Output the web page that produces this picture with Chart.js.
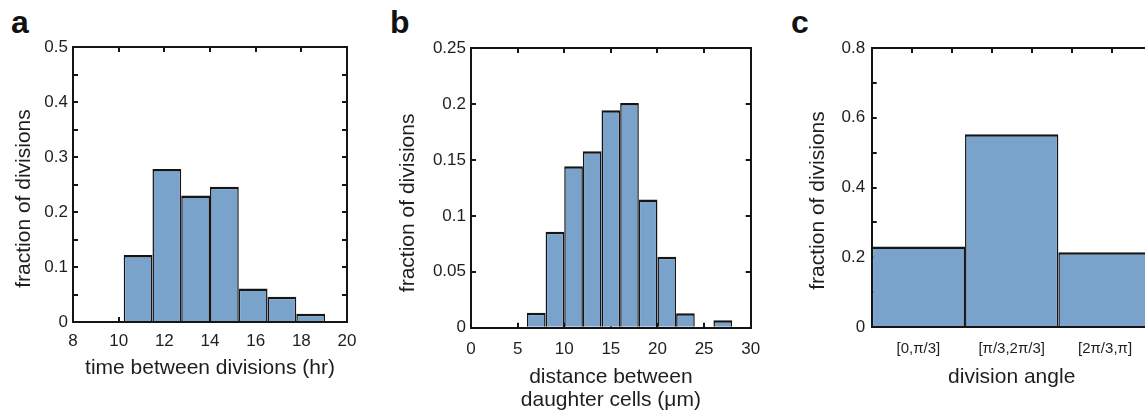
<!DOCTYPE html>
<html>
<head>
<meta charset="utf-8">
<script src="https://cdn.jsdelivr.net/npm/chart.js@4/dist/chart.umd.min.js"></script>
<style>
html,body{margin:0;padding:0;background:#fff;overflow:hidden;width:1145px;height:419px;position:relative;}
canvas{position:absolute;top:0;}
.lbl{position:absolute;font:bold 32px "Liberation Sans",Arial,sans-serif;color:#111;line-height:1;}
</style>
</head>
<body>
<div class="lbl" style="left:11px;top:6px">a</div>
<div class="lbl" style="left:390px;top:6px">b</div>
<div class="lbl" style="left:791px;top:6px">c</div>
<canvas id="ca" width="390" height="419" style="left:0px"></canvas>
<canvas id="cb" width="395" height="419" style="left:385px"></canvas>
<canvas id="cc" width="375" height="419" style="left:790px"></canvas>
<script>
// ---------- data ----------
// Panel a: time between divisions (hr)
const aBinCenters = [10.85, 12.11, 13.37, 14.63, 15.89, 17.15, 18.41];
const aFractions  = [0.122, 0.278, 0.230, 0.246, 0.061, 0.046, 0.015];
const aXTicks     = [8, 10, 12, 14, 16, 18, 20];
const aYTicks     = [0, 0.05, 0.1, 0.15, 0.2, 0.25, 0.3, 0.35, 0.4, 0.45, 0.5];
const aYLabels    = [0, 0.1, 0.2, 0.3, 0.4, 0.5];

// Panel b: distance between daughter cells (um)
const bBinCenters = [7, 9, 11, 13, 15, 17, 19, 21, 23, 25, 27];
const bFractions  = [0.0134, 0.0857, 0.1444, 0.1578, 0.1944, 0.2009, 0.1146, 0.0634, 0.0129, 0, 0.0066];
const bXTicks     = [0, 5, 10, 15, 20, 25, 30];
const bYTicks     = [0, 0.05, 0.1, 0.15, 0.2, 0.25];
const bYLabels    = [0, 0.05, 0.1, 0.15, 0.2, 0.25];

// Panel c: division angle
const cCategories = ['[0,\u03c0/3]', '[\u03c0/3,2\u03c0/3]', '[2\u03c0/3,\u03c0]'];
const cFractions  = [0.231, 0.553, 0.214];
const cTopTicks   = [0, 0.5, 1, 1.5, 2, 2.5, 3, 3.5];
const cYTicks     = [0, 0.1, 0.2, 0.3, 0.4, 0.5, 0.6, 0.7, 0.8];
const cYLabels    = [0, 0.2, 0.4, 0.6, 0.8];

const Y_TITLE = 'fraction of divisions';

// ---------- style ----------
const FONT = '"Liberation Sans", Arial, Helvetica, sans-serif';
const INK = '#151515';
const TXT = '#1e1e1e';
const BAR = '#7aa3cc';
const TICK_SIZE = 17;
const TITLE_SIZE = 21;

// rotated y-axis title, centred on the plot area with a small downward shift
const yTitlePlugin = {
  id: 'yTitle',
  afterDraw(chart, args, opts) {
    const {ctx, chartArea} = chart;
    ctx.save();
    ctx.translate(opts.x, (chartArea.top + chartArea.bottom) / 2 + opts.dy);
    ctx.rotate(-Math.PI / 2);
    ctx.font = TITLE_SIZE + 'px ' + FONT;
    ctx.fillStyle = TXT;
    ctx.textAlign = 'center';
    ctx.textBaseline = 'middle';
    ctx.fillText(opts.text, 0, 0);
    ctx.restore();
  }
};

function edgeGrid(drawTicks) {
  return {display: true, drawOnChartArea: false, drawTicks: drawTicks !== false, tickLength: -5,
          lineWidth: 2, tickWidth: 2, color: INK, tickColor: INK, offset: false};
}
function frame() { return {display: true, width: 2, color: INK}; }
function fixedTicks(list) { return (scale) => { scale.ticks = list.map(v => ({value: v})); }; }
function fmt(v) { return String(parseFloat(Number(v).toFixed(3))); }
function isIn(list, v) { return list.some(l => Math.abs(l - v) < 1e-9); }

function yScales(p) {
  return {
    y: {type: 'linear', position: 'left', min: p.yTicks[0], max: p.yTicks[p.yTicks.length - 1],
        afterBuildTicks: fixedTicks(p.yTicks),
        ticks: {autoSkip: false, padding: p.yPad, font: {family: FONT, size: TICK_SIZE}, color: TXT,
                callback: v => isIn(p.yLabels, v) ? fmt(v) : ''},
        grid: edgeGrid(), border: frame(),
        afterFit: s => { s.width = p.yW; }},
    yRight: {type: 'linear', position: 'right', min: p.yTicks[0], max: p.yTicks[p.yTicks.length - 1],
        afterBuildTicks: fixedTicks(p.yTicks), ticks: {display: false},
        grid: edgeGrid(), border: frame(), afterFit: s => { s.width = 0; }}
  };
}

function topScale(ticks) {
  return {type: 'linear', position: 'top', offset: false, min: ticks[0], max: ticks[ticks.length - 1],
          afterBuildTicks: fixedTicks(ticks.slice(1, -1)), ticks: {display: false},
          grid: edgeGrid(), border: frame(), afterFit: s => { s.height = 0; }};
}

const BAR_STYLE = {
  backgroundColor: BAR, borderColor: INK,
  borderWidth: {top: 2.5, left: 1.5, right: 1.5, bottom: 0}, borderSkipped: false,
  barPercentage: 1, categoryPercentage: 1, inflateAmount: 0
};

function histPanel(id, p) {
  const scales = Object.assign({
    x: {type: 'linear', position: 'bottom', offset: false, min: p.xTicks[0], max: p.xTicks[p.xTicks.length - 1],
        afterBuildTicks: fixedTicks(p.xTicks),
        ticks: {autoSkip: false, maxRotation: 0, padding: p.xPad, font: {family: FONT, size: TICK_SIZE}, color: TXT,
                callback: v => fmt(v)},
        grid: edgeGrid(), border: frame(),
        title: {display: true, text: p.xTitle, color: TXT, font: {family: FONT, size: TITLE_SIZE, lineHeight: 1.1},
                padding: {top: 0, bottom: p.xTitlePad}},
        afterFit: s => { s.height = p.xH; }},
    xTop: topScale(p.xTicks)
  }, yScales(p));
  return new Chart(document.getElementById(id), {
    type: 'bar',
    data: {datasets: [Object.assign({
      data: p.centers.map((c, i) => ({x: c, y: p.values[i]})),
      barThickness: 'flex'
    }, BAR_STYLE)]},
    options: {
      responsive: false, animation: false, devicePixelRatio: 1,
      layout: {padding: {left: 0, top: p.top, right: p.right, bottom: 0}},
      plugins: {legend: {display: false}, tooltip: {enabled: false},
                yTitle: {text: Y_TITLE, x: p.yTitleX, dy: p.yTitleDy}},
      scales: scales
    },
    plugins: [yTitlePlugin]
  });
}

histPanel('ca', {
  centers: aBinCenters, values: aFractions, xTicks: aXTicks, yTicks: aYTicks, yLabels: aYLabels,
  xTitle: 'time between divisions (hr)',
  yW: 73, top: 47, right: 43, xH: 97, yPad: 10, xPad: 14.5, xTitlePad: 39.5,
  yTitleX: 24.5, yTitleDy: 14
});

histPanel('cb', {
  centers: bBinCenters, values: bFractions, xTicks: bXTicks, yTicks: bYTicks, yLabels: bYLabels,
  xTitle: ['distance between', 'daughter cells (\u03bcm)'],
  yW: 86, top: 48, right: 29.3, xH: 91.3, yPad: 10, xPad: 16, xTitlePad: 7,
  yTitleX: 23, yTitleDy: 15
});

// Panel c
(function () {
  const p = {yTicks: cYTicks, yLabels: cYLabels, yW: 81.7, yPad: 11.5};
  const scales = Object.assign({
    x: {type: 'category', position: 'bottom', offset: true,
        ticks: {autoSkip: false, maxRotation: 0, padding: 13, font: {family: FONT, size: 15}, color: TXT},
        grid: {display: true, drawOnChartArea: false, drawTicks: false, lineWidth: 2, color: INK},
        border: frame(),
        title: {display: true, text: 'division angle', color: TXT, font: {family: FONT, size: TITLE_SIZE, lineHeight: 1.1},
                padding: {top: 0, bottom: 30}},
        afterFit: s => { s.height = 92; }},
    xTop: topScale(cTopTicks)
  }, yScales(p));
  new Chart(document.getElementById('cc'), {
    type: 'bar',
    data: {labels: cCategories, datasets: [Object.assign({data: cFractions}, BAR_STYLE)]},
    options: {
      responsive: false, animation: false, devicePixelRatio: 1,
      layout: {padding: {left: 0, top: 48, right: 13.3, bottom: 0}},
      plugins: {legend: {display: false}, tooltip: {enabled: false},
                yTitle: {text: Y_TITLE, x: 28, dy: 13}},
      scales: scales
    },
    plugins: [yTitlePlugin]
  });
})();
</script>
</body>
</html>
